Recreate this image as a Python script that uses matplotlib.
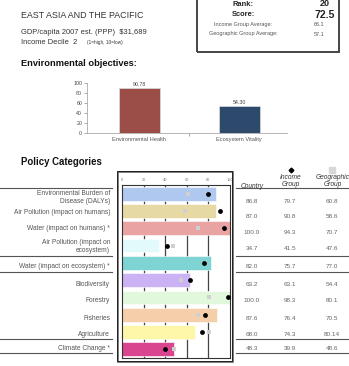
import matplotlib
matplotlib.use("Agg")
import matplotlib.pyplot as plt
from matplotlib.patches import Rectangle
from matplotlib.lines import Line2D

plt.rcParams['font.family'] = ['Liberation Sans', 'DejaVu Sans']

W, H = 349, 366

# header figures
region = "EAST ASIA AND THE PACIFIC"
gdp = "$31,689"
income_decile = 2
rank = 20
score = 72.5
income_avg = 66.1
geo_avg = 57.1

# objective scores
objectives = ["Environmental Health", "Ecosystem Vitality"]
objective_scores = [90.78, 54.30]
objective_colors = ["#9B4E47", "#2D4A6D"]

# policy categories
categories = ["Environmental Burden of\nDisease (DALYs)",
              "Air Pollution (impact on humans)",
              "Water (impact on humans) *",
              "Air Pollution (impact on\necosystem)",
              "Water (impact on ecosystem) *",
              "Biodiversity", "Forestry", "Fisheries", "Agriculture",
              "Climate Change *"]
country = [86.8, 87.0, 100.0, 34.7, 82.0, 63.2, 100.0, 87.6, 68.0, 48.3]
income_group = [79.7, 90.8, 94.3, 41.5, 75.7, 63.1, 98.3, 76.4, 74.3, 39.9]
geo_group = [60.8, 58.6, 70.7, 47.6, 77.0, 54.4, 80.1, 70.5, 80.14, 48.6]
bar_colors = ["#AFC8EF", "#E6D9A3", "#E9A3A3", "#E2FAFB", "#7ED3D3",
              "#CBB2F4", "#E2F8DD", "#F4CFAA", "#FFF7A8", "#D9468F"]


def fx(x):
    return x / W


def fy(y):
    return 1 - y / H


def box(l, t, r, b):
    return [fx(l), fy(b), (r - l) / W, (b - t) / H]


fig = plt.figure(figsize=(W / 100, H / 100), dpi=100)
fig.patch.set_facecolor("white")

# ---- header text
fig.text(fx(21), fy(15), region, fontsize=6.4, color="#333333", va="center")
fig.text(fx(21), fy(33), "GDP/capita 2007 est. (PPP)  " + gdp, fontsize=5.4,
         color="#333333", va="center")
fig.text(fx(21), fy(42), "Income Decile  %d" % income_decile, fontsize=5.4,
         color="#333333", va="center")
fig.text(fx(87), fy(42.5), "(1=high, 10=low)", fontsize=3.4, color="#333333",
         va="center")

# score box
fig.add_artist(Rectangle((fx(197), fy(52)), (339 - 197) / W, 60 / H,
                         transform=fig.transFigure, fill=False,
                         edgecolor="#444444", lw=1.4))
fig.text(fx(243), fy(4), "Rank:", fontsize=5.4, weight="bold", ha="center",
         va="center", color="#222222")
fig.text(fx(325), fy(4), str(rank), fontsize=6.5, weight="bold", ha="center",
         va="center", color="#222222")
fig.text(fx(243), fy(14), "Score:", fontsize=5.4, weight="bold", ha="center",
         va="center", color="#222222")
fig.text(fx(325), fy(15), str(score), fontsize=7.5, weight="bold",
         ha="center", va="center", color="#222222")
fig.text(fx(243), fy(24.5), "Income Group Average:", fontsize=4.0,
         ha="center", va="center", color="#555555")
fig.text(fx(319), fy(24.5), str(income_avg), fontsize=4.0, ha="center",
         va="center", color="#555555")
fig.text(fx(243), fy(34), "Geographic Group Average:", fontsize=4.0,
         ha="center", va="center", color="#555555")
fig.text(fx(319), fy(34), str(geo_avg), fontsize=4.0, ha="center",
         va="center", color="#555555")

# ---- environmental objectives
fig.text(fx(21), fy(64), "Environmental objectives:", fontsize=6.7,
         weight="bold", va="center", color="#111111")

ax1 = fig.add_axes(box(87, 83, 287, 133))
ax1.bar(range(2), objective_scores, width=0.41, color=objective_colors,
        edgecolor="#dddddd", lw=0.5)
for i, v in enumerate(objective_scores):
    ax1.text(i, v + 1.5, "%.2f" % v, ha="center", va="bottom", fontsize=3.8,
             color="#444444")
ax1.set_xlim(-0.52, 1.48)
ax1.set_ylim(0, 100)
ax1.set_yticks(range(0, 101, 20))
ax1.set_xticks([0.5])
ax1.set_xticklabels([""])
ax1.tick_params(axis="y", labelsize=3.8, colors="#888888", labelcolor="#444444",
                length=2, width=0.5, pad=1.5)
ax1.tick_params(axis="x", length=2, width=0.5, colors="#888888")
for s in ["top", "right"]:
    ax1.spines[s].set_visible(False)
for s in ["left", "bottom"]:
    ax1.spines[s].set_color("#aaaaaa")
    ax1.spines[s].set_linewidth(0.6)
for i, name in enumerate(objectives):
    ax1.text(i, -8, name, ha="center", va="top", fontsize=4.1,
             color="#555555")

# ---- policy categories
fig.text(fx(21), fy(162), "Policy Categories", fontsize=6.9, weight="bold",
         va="center", color="#111111")

# outer frame with shadow
fig.add_artist(Rectangle((fx(118), fy(362)), (233 - 118) / W, (362 - 172) / H,
                         transform=fig.transFigure, fill=False,
                         edgecolor="#666666", lw=1.2))
fig.add_artist(Rectangle((fx(117), fy(361)), (232 - 117) / W, (361 - 171) / H,
                         transform=fig.transFigure, fill=False,
                         edgecolor="#222222", lw=0.7))

ax2 = fig.add_axes(box(122, 185, 230, 358))
n = len(categories)
rows = list(range(n))
ax2.set_xlim(0, 100)
ax2.set_ylim(n - 0.5, -0.5)
for gx in [20, 40, 60, 80]:
    ax2.axvline(gx, color="#444444", lw=0.9, zorder=0)
ax2.barh(rows, country, height=0.8, color=bar_colors,
         edgecolor="#ffffff", lw=0.4, zorder=1)
ax2.scatter(geo_group, rows, marker="s", s=6, color="#d0d0d0", zorder=2,
            linewidths=0)
ax2.scatter(income_group, rows, marker="o", s=12, color="#000000", zorder=3,
            linewidths=0)
ax2.xaxis.tick_top()
ax2.set_xticks(range(0, 101, 20))
ax2.tick_params(axis="x", labelsize=2.8, labelcolor="#777777", length=0,
                pad=2)
ax2.set_yticks([])
for s in ax2.spines.values():
    s.set_color("#333333")
    s.set_linewidth(0.8)

# row labels and table
row_y = [197.5, 213, 229, 246.5, 267, 284, 301, 318, 334, 348]
val_y = [202, 217, 232, 248, 267, 284, 301, 318, 334, 348]
for lab, ly in zip(categories, row_y):
    fig.text(fx(110), fy(ly), lab, fontsize=4.8, ha="right", va="center",
             color="#555555", linespacing=1.1)

for c, i_, g, vy in zip(country, income_group, geo_group, val_y):
    for xpos, v in zip([252, 290, 332], [c, i_, g]):
        fig.text(fx(xpos), fy(vy), str(v), fontsize=4.6, ha="center",
                 va="center", color="#666666")

# table header
fig.text(fx(252), fy(186), "Country", fontsize=4.8, style="italic",
         ha="center", va="center", color="#333333")
fig.text(fx(291), fy(181), "Income\nGroup", fontsize=4.8, style="italic",
         ha="center", va="center", color="#333333", linespacing=1.0)
fig.text(fx(333), fy(181), "Geographic\nGroup", fontsize=4.8, style="italic",
         ha="center", va="center", color="#333333", linespacing=1.0)
fig.add_artist(Line2D([fx(291)], [fy(170)], marker="D", markersize=2.4,
                      color="black", transform=fig.transFigure))
fig.add_artist(Rectangle((fx(329), fy(173)), 6 / W, 6 / H,
                         transform=fig.transFigure, color="#d8d8d8"))

# separators
for ly in [188, 256, 272, 339, 353]:
    fig.add_artist(Line2D([fx(0), fx(112)], [fy(ly), fy(ly)], color="#555555",
                          lw=0.8, transform=fig.transFigure))
    fig.add_artist(Line2D([fx(236), fx(349)], [fy(ly), fy(ly)],
                          color="#555555", lw=0.8, transform=fig.transFigure))

fig.savefig("out.png", dpi=100)
